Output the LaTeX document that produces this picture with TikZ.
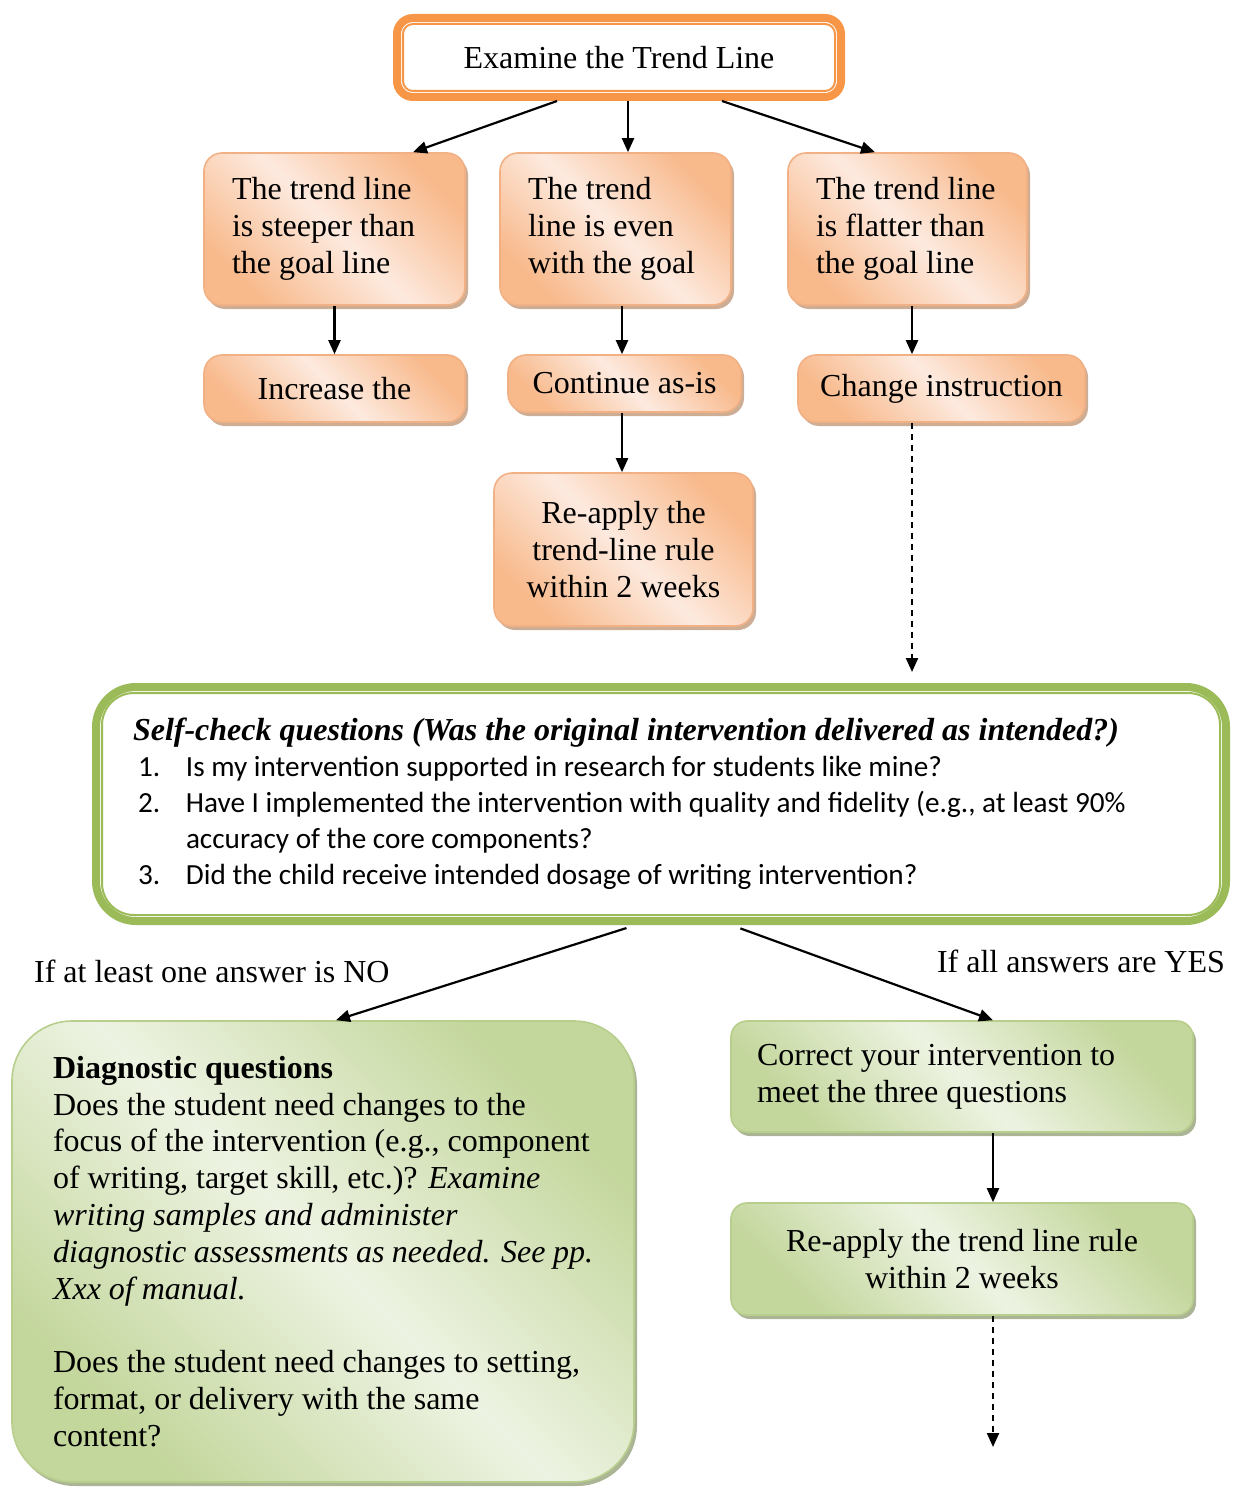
\documentclass[tikz,border=0pt]{standalone}
\usepackage{fontspec}
\setmainfont{Liberation Serif}
\newfontfamily\calibri{Carlito}
\usepackage{tikz}
\usetikzlibrary{positioning,arrows.meta,calc,shadows}
\tikzset{>={Triangle[length=7pt,width=6pt]}}

\definecolor{frameO}{HTML}{F79646}
\definecolor{darkO}{HTML}{F8B98B}
\definecolor{lightO}{HTML}{FDEADF}
\definecolor{borderO}{HTML}{F2B185}
\definecolor{shadowO}{HTML}{C9A489}
\definecolor{frameG}{HTML}{9BBB59}
\definecolor{darkG}{HTML}{C3D69B}
\definecolor{lightG}{HTML}{EDF3E2}
\definecolor{borderG}{HTML}{B8CE8D}
\definecolor{shadowG}{HTML}{A2AD8A}

\begin{document}
\begin{tikzpicture}[x=0.5pt, y=-0.5pt, line width=1.1pt,
    txt/.style={font=\fontsize{16}{18.5}\selectfont},
    obox/.style={txt, rounded corners=9pt, draw=borderO, line width=0.8pt,
      top color=darkO, bottom color=darkO, middle color=lightO, shading angle=-45,
      drop shadow={shadow xshift=1.5pt, shadow yshift=-2pt, fill=shadowO, opacity=0.9},
      inner xsep=14pt, inner ysep=0pt},
    gbox/.style={txt, draw=borderG, line width=0.8pt,
      top color=darkG, bottom color=darkG, middle color=lightG, shading angle=-45,
      drop shadow={shadow xshift=1.5pt, shadow yshift=-2pt, fill=shadowG, opacity=0.9},
      inner ysep=0pt},
    frame/.style={txt, line width=4pt, fill=white},
    lbl/.style={txt, inner sep=0pt}]

  \useasboundingbox (0,0) rectangle (1232,1487);

  % top of the chart
  \node[frame, draw=frameO, rounded corners=8pt, minimum width=222pt, minimum height=39.5pt] (top) at (619,57.5) {Examine the Trend Line};
  \draw[frameO, line width=1pt, rounded corners=5pt] ([shift={(5pt,5pt)}]top.south west) rectangle ([shift={(-5pt,-5pt)}]top.north east);

  % three outcomes
  \node[obox, align=flush left, text width=102.5pt, minimum height=76pt] (steep) at (334.5,229) {The trend line\\is steeper than\\the goal line};
  \node[obox, align=flush left, text width=87.5pt, minimum height=76pt] (even) at (615.5,229) {The trend\\line is even\\with the goal};
  \node[obox, align=flush left, text width=91.5pt, minimum height=76pt] (flat) at (907.5,229) {The trend line\\is flatter than\\the goal line};

  \node[obox, inner xsep=6pt, minimum width=130.5pt, minimum height=33.5pt] (incr) at (334.5,388.5) {Increase the};
  \node[obox, inner xsep=6pt, minimum width=116.5pt, minimum height=28.5pt] (cont) at (624.5,383.5) {Continue as-is};
  \node[obox, inner xsep=6pt, minimum width=143.5pt, minimum height=33.5pt] (chg) at (941.5,388.5) {Change instruction};
  \node[obox, align=flush center, minimum width=129.5pt, minimum height=76.5pt] (reapp) at (623.5,549.5) {Re-apply the\\trend-line rule\\within 2 weeks};

  % self-check
  \node[frame, draw=frameG, rounded corners=20pt, align=flush left, text width=528pt, inner xsep=18.5pt,
        minimum height=117pt, font=\fontsize{16}{18}\selectfont] (check) at (661,804)
       {\textbf{\textit{Self-check questions (Was the original intervention delivered as intended?)}}\\
        {\calibri\fontsize{14.6}{18}\selectfont
        \hspace*{2.5pt}\makebox[24pt][l]{1.}Is my intervention supported in research for students like mine?\\
        \hspace*{2.5pt}\makebox[24pt][l]{2.}Have I implemented the intervention with quality and fidelity (e.g., at least 90\%\\
        \hspace*{26.5pt}accuracy of the core components?\\
        \hspace*{2.5pt}\makebox[24pt][l]{3.}Did the child receive intended dosage of writing intervention?}};
  \draw[frameG, line width=1pt, rounded corners=16pt] ([shift={(5pt,5pt)}]check.south west) rectangle ([shift={(-5pt,-5pt)}]check.north east);

  \node[lbl, anchor=west] (noLbl) at (33,971) {If at least one answer is NO};
  \node[lbl, anchor=east] (yesLbl) at (1226,961) {If all answers are YES};

  % the two branches
  \node[gbox, rounded corners=30pt, align=flush left, text width=270pt, inner xsep=20.5pt,
        minimum height=230.5pt, font=\fontsize{16}{18.4}\selectfont] (diag) at (323,1251.5)
       {\textbf{Diagnostic questions}\\
        Does the student need changes to the\\
        focus of the intervention (e.g., component\\
        of writing, target skill, etc.)? \textit{Examine}\\
        \textit{writing samples and administer}\\
        \textit{diagnostic assessments as needed. See pp.}\\
        \textit{Xxx of manual.}\\[18.4pt]
        Does the student need changes to setting,\\
        format, or delivery with the same\\
        content?};
  \node[gbox, rounded corners=8pt, align=flush left, text width=205pt, inner xsep=13pt, minimum height=55.5pt] (corr) at (962,1076.5)
       {Correct your intervention to\\meet the three questions};
  \node[gbox, rounded corners=8pt, align=flush center, minimum width=231pt, minimum height=56pt] (reapp2) at (962,1259)
       {Re-apply the trend line rule\\within 2 weeks};

  \coordinate (chkIn) at (912,672);
  \coordinate (endB) at (993,1447);

  \path[->] ($(top.south)+(-62,0)$) edge ($(steep.north)+(78.5,0)$)
            ($(top.south)+(9,0)$) edge ($(top.south |- even.north)+(9,0)$)
            ($(top.south)+(103,0)$) edge ($(flat.north)+(-32.5,0)$)
            (steep.south) edge (incr.north)
            ($(even.south)+(6.5,0)$) edge ($(even.south |- cont.north)+(6.5,0)$)
            ($(flat.south)+(4.5,0)$) edge ($(flat.south |- chg.north)+(4.5,0)$)
            ($(cont.south)+(-2.5,0)$) edge ($(cont.south |- reapp.north)+(-2.5,0)$)
            ($(check.south)+(-25,0)$) edge[shorten <=5pt] ($(diag.north)+(13,0)$)
            ($(check.south)+(70,0)$) edge[shorten <=5pt] ($(corr.north)+(31,0)$)
            ($(corr.south)+(31,0)$) edge ($(corr.south |- reapp2.north)+(31,0)$);

  \draw[->, dash pattern=on 3pt off 2.5pt] ($(chg.south)+(-29.5,0)$) -- (chkIn);
  \draw[->, dash pattern=on 3pt off 2.5pt] ($(reapp2.south)+(31,0)$) -- (endB);

\end{tikzpicture}
\end{document}
